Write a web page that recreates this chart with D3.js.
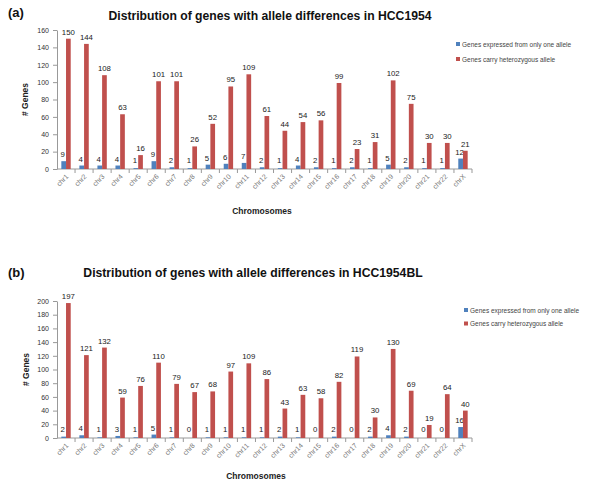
<!DOCTYPE html>
<html><head><meta charset="utf-8">
<script src="https://cdn.jsdelivr.net/npm/d3@7"></script>
<style>body{margin:0;background:#fff}svg{display:block}</style>
</head><body>
<svg id="c" width="600" height="485"></svg>
<script>
const chromosomes = ["chr1","chr2","chr3","chr4","chr5","chr6","chr7","chr8","chr9","chr10","chr11","chr12","chr13","chr14","chr15","chr16","chr17","chr18","chr19","chr20","chr21","chr22","chrX"];
const seriesNames = ["Genes expressed from only one allele","Genes carry heterozygous allele"];
const oneAlleleA = [9,4,4,4,1,9,2,1,5,6,7,2,1,4,2,1,2,1,5,2,1,1,12];
const heteroA    = [150,144,108,63,16,101,101,26,52,95,109,61,44,54,56,99,23,31,102,75,30,30,21];
const oneAlleleB = [2,4,1,3,1,5,1,0,1,1,1,1,2,1,0,2,0,2,4,2,0,0,16];
const heteroB    = [197,121,132,59,76,110,79,67,68,97,109,86,43,63,58,82,119,30,130,69,19,64,40];
const ticksA = [0,20,40,60,80,100,120,140,160];
const ticksB = [0,20,40,60,80,100,120,140,160,180,200];

const colors = ["#4F81BD","#C0504D"];
const svg = d3.select("#c");
const font = "'Liberation Sans', Arial, sans-serif";

function panel(cfg){
  const g = svg.append("g");
  const x = d3.scaleBand().domain(chromosomes).range([57, 472]);
  const y = d3.scaleLinear().domain([0, cfg.max]).range([cfg.y0, cfg.y1]);
  const bw = x.bandwidth()*0.26;
  g.append("text").attr("x",8).attr("y",cfg.letterY).attr("font-family",font)
    .attr("font-weight","bold").attr("font-size",13).attr("fill","#111").text(cfg.letter);
  g.append("text").attr("x",cfg.titleX).attr("y",cfg.titleY).attr("text-anchor","middle")
    .attr("font-family",font).attr("font-weight","bold").attr("font-size",12.2).attr("fill","#111").text(cfg.title);
  const ya = d3.axisLeft(y).tickValues(cfg.ticks).tickSize(4).tickSizeOuter(0);
  const yg = g.append("g").attr("transform","translate(57,0)").call(ya);
  yg.selectAll("text").attr("font-family",font).attr("font-size",7).attr("fill","#333").attr("dx",-1);
  yg.selectAll("line,path").attr("stroke","#999");
  const xg = g.append("g").attr("transform",`translate(0,${cfg.y0})`);
  xg.append("line").attr("x1",57).attr("x2",472).attr("stroke","#999");
  xg.selectAll("line.t").data(chromosomes).enter().append("line")
    .attr("x1",d=>x(d)+x.bandwidth()).attr("x2",d=>x(d)+x.bandwidth())
    .attr("y1",0).attr("y2",4).attr("stroke","#999");
  xg.selectAll("text").data(chromosomes).enter().append("text")
    .attr("transform",d=>`translate(${x(d)+x.bandwidth()/2+3},8) rotate(-45)`)
    .attr("text-anchor","end").attr("font-family",font).attr("font-size",7).attr("fill","#777").text(d=>d);
  const series = [cfg.s1, cfg.s2];
  series.forEach((vals,si)=>{
    const off = si===0 ? x.bandwidth()/2 - bw : x.bandwidth()/2;
    g.selectAll(null).data(vals).enter().append("rect")
      .attr("x",(d,i)=>x(chromosomes[i])+off)
      .attr("y",d=>y(d)).attr("width",bw).attr("height",d=>cfg.y0-y(d))
      .attr("fill",colors[si]);
    g.selectAll(null).data(vals).enter().append("text")
      .attr("x",(d,i)=>x(chromosomes[i])+off+bw/2 + (si===0?-1:0))
      .attr("y",d=>Math.min(y(d), si===0? cfg.y0-2: cfg.y0)-4)
      .attr("text-anchor","middle").attr("font-family",font).attr("font-size",7.8).attr("fill","#222")
      .text(d=>d);
  });
  seriesNames.forEach((n,i)=>{
    g.append("rect").attr("x",cfg.legX).attr("y",cfg.legY+i*cfg.legGap-3).attr("width",4).attr("height",4).attr("fill",colors[i]);
    g.append("text").attr("x",cfg.legX+6).attr("y",cfg.legY+i*cfg.legGap+1.5).attr("font-family",font)
      .attr("font-size",6.5).attr("fill","#444").text(n);
  });
  g.append("text").attr("transform",`translate(${cfg.ylabX},${(cfg.y0+cfg.y1)/2}) rotate(-90)`)
    .attr("text-anchor","middle").attr("font-family",font).attr("font-weight","bold").attr("font-size",8.5).attr("fill","#222").text("# Genes");
  g.append("text").attr("x",cfg.xlabX).attr("y",cfg.xlabY).attr("text-anchor","middle")
    .attr("font-family",font).attr("font-weight","bold").attr("font-size",8.5).attr("fill","#222").text("Chromosomes");
}

panel({letter:"(a)",letterY:17,title:"Distribution of genes with allele differences in HCC1954",titleX:270,titleY:20,
  max:160,ticks:ticksA,y0:169,y1:30,s1:oneAlleleA,s2:heteroA,legX:456,legY:45,legGap:15,ylabX:28,xlabX:262,xlabY:214});
panel({letter:"(b)",letterY:277,title:"Distribution of genes with allele differences in HCC1954BL",titleX:253,titleY:277,
  max:200,ticks:ticksB,y0:438,y1:301,s1:oneAlleleB,s2:heteroB,legX:464,legY:311,legGap:13.5,ylabX:29,xlabX:256,xlabY:479});
</script>
</body></html>
